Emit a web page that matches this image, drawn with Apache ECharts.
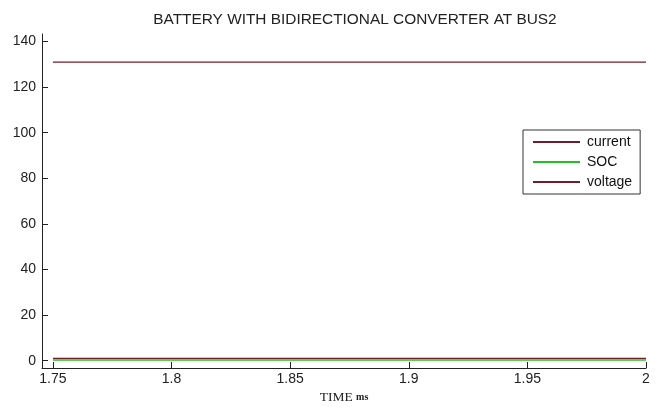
<!DOCTYPE html>
<html><head><meta charset="utf-8">
<script src="https://cdn.jsdelivr.net/npm/echarts@6/dist/echarts.min.js"></script>
<style>html,body{margin:0;padding:0;background:#fff}#c{width:667px;height:407px}</style>
</head><body><div id="c"></div>
<script>
var timeMs = [1.75, 2.0];
var currentVals = [1.0, 1.0];
var socVals = [0.3, 0.3];
var voltageVals = [131, 131];
var xTicks = [1.75, 1.8, 1.85, 1.9, 1.95, 2.0];
var yTicks = [0, 20, 40, 60, 80, 100, 120, 140];
var seriesNames = ['current', 'SOC', 'voltage'];
var seriesColors = ['#701c2c', '#22c022', '#701c2c'];

function pairs(xs, ys){ return xs.map(function(x,i){return [x, ys[i]];}); }
var chart = echarts.init(document.getElementById('c'), null, {renderer:'canvas'});
var font = '"Liberation Sans", Arial, sans-serif';
var dataSets = [currentVals, socVals, voltageVals];
var drawOrder = [1, 0, 2];
chart.setOption({
  animation:false,
  backgroundColor:'#fff',
  title:{text:'BATTERY WITH BIDIRECTIONAL CONVERTER AT BUS2', left:350, textAlign:'center', top:7,
    textStyle:{fontFamily:font, fontSize:15.4, fontWeight:'normal', color:'#222'}},
  legend:{orient:'vertical', left:523, top:130, padding:[5,8,5,9], itemWidth:47, itemHeight:14, itemGap:6,
    borderColor:'#333', borderWidth:1, backgroundColor:'#fff',
    itemStyle:{opacity:0},
    textStyle:{fontFamily:font, fontSize:14, color:'#111', padding:[0,0,0,2]},
    data:seriesNames},
  grid:{left:42, right:21, top:34, bottom:39, outerBoundsMode:'none', containLabel:false},
  xAxis:{type:'value', min:1.7454, max:2.0,
    axisLine:{show:true, onZero:false, lineStyle:{color:'#222', width:1}},
    axisTick:{show:true, inside:true, length:6, customValues:xTicks, lineStyle:{color:'#222'}},
    axisLabel:{customValues:xTicks, fontFamily:font, fontSize:14, color:'#222', margin:4,
      formatter:function(v){return String(+v.toFixed(2));}},
    splitLine:{show:false},
    name:'{a|TIME} {b|ms}', nameLocation:'middle', nameGap:21,
    nameTextStyle:{rich:{a:{fontFamily:'"Liberation Serif", "Times New Roman", serif', fontSize:13.5, color:'#222'},
                          b:{fontFamily:'"Liberation Serif", "Times New Roman", serif', fontSize:10, color:'#222', fontWeight:'bold'}}}
  },
  yAxis:{type:'value', min:-3.2, max:143.3,
    axisLine:{show:true, onZero:false, lineStyle:{color:'#222', width:1}},
    axisTick:{show:true, inside:true, length:6, customValues:yTicks, lineStyle:{color:'#222'}},
    axisLabel:{customValues:yTicks, fontFamily:font, fontSize:14, color:'#222', margin:6},
    splitLine:{show:false}
  },
  series: seriesNames.map(function(n,i){
    return {name:n, type:'line', symbol:'none', z:2+drawOrder[i], data:pairs(timeMs, dataSets[i]),
      lineStyle:{color:seriesColors[i], width:1.3}, itemStyle:{color:seriesColors[i]}};
  })
});
</script></body></html>
